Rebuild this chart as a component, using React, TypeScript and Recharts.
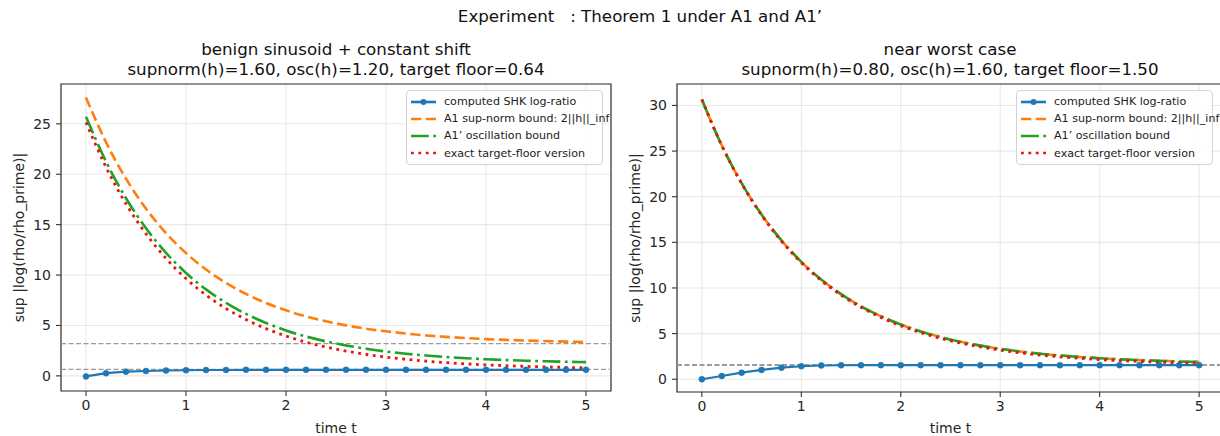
import React from 'react';
import { LineChart, Line, XAxis, YAxis, CartesianGrid, ReferenceLine, ReferenceArea, Legend } from 'recharts';

const FONT = '"DejaVu Sans", "Liberation Sans", sans-serif';

const TIMES = [0, 0.2, 0.4, 0.6, 0.8, 1, 1.2, 1.4, 1.6, 1.8, 2, 2.2, 2.4, 2.6, 2.8, 3, 3.2, 3.4, 3.6, 3.8, 4, 4.2, 4.4, 4.6, 4.8, 5];
const X_TICKS = [0, 1, 2, 3, 4, 5];
const LEFT_Y_TICKS = [0, 5, 10, 15, 20, 25];
const RIGHT_Y_TICKS = [0, 5, 10, 15, 20, 25, 30];

// benign sinusoid + constant shift
const LEFT_COMPUTED = [-0.05, 0.27, 0.42, 0.48, 0.53, 0.56, 0.58, 0.59, 0.6, 0.6, 0.6, 0.6, 0.6, 0.6, 0.6, 0.6, 0.6, 0.6, 0.6, 0.6, 0.6, 0.6, 0.6, 0.6, 0.6, 0.6];
const LEFT_SUPNORM = [27.6, 23.18, 19.56, 16.59, 14.16, 12.18, 10.55, 9.22, 8.13, 7.23, 6.5, 5.9, 5.41, 5.01, 4.68, 4.42, 4.2, 4.01, 3.87, 3.75, 3.65, 3.57, 3.5, 3.45, 3.4, 3.36];
const LEFT_OSC = [25.7, 21.26, 17.62, 14.65, 12.21, 10.21, 8.58, 7.24, 6.15, 5.25, 4.51, 3.91, 3.42, 3.02, 2.69, 2.42, 2.2, 2.02, 1.87, 1.75, 1.65, 1.57, 1.5, 1.45, 1.4, 1.36];
const LEFT_FLOOR = [25.14, 20.7, 17.06, 14.09, 11.65, 9.65, 8.02, 6.68, 5.59, 4.69, 3.95, 3.35, 2.86, 2.46, 2.13, 1.86, 1.64, 1.46, 1.31, 1.19, 1.09, 1.01, 0.94, 0.89, 0.84, 0.8];
const LEFT_REFS = [3.2, 0.64];

// near worst case
const RIGHT_COMPUTED = [0, 0.35, 0.72, 1.02, 1.27, 1.43, 1.51, 1.53, 1.54, 1.54, 1.54, 1.54, 1.54, 1.54, 1.54, 1.54, 1.54, 1.54, 1.54, 1.54, 1.54, 1.54, 1.54, 1.54, 1.54, 1.54];
const RIGHT_SUPNORM = [30.65, 25.63, 21.48, 18.05, 15.21, 12.86, 10.92, 9.32, 7.99, 6.9, 5.99, 5.24, 4.62, 4.1, 3.68, 3.33, 3.04, 2.8, 2.6, 2.44, 2.3, 2.19, 2.09, 2.02, 1.95, 1.9];
const RIGHT_OSC = [30.65, 25.63, 21.48, 18.05, 15.21, 12.86, 10.92, 9.32, 7.99, 6.9, 5.99, 5.24, 4.62, 4.1, 3.68, 3.33, 3.04, 2.8, 2.6, 2.44, 2.3, 2.19, 2.09, 2.02, 1.95, 1.9];
const RIGHT_FLOOR = [30.65, 25.61, 21.44, 17.98, 15.13, 12.77, 10.82, 9.21, 7.88, 6.77, 5.86, 5.11, 4.48, 3.97, 3.54, 3.18, 2.89, 2.65, 2.45, 2.29, 2.15, 2.04, 1.95, 1.87, 1.81, 1.75];
const RIGHT_REFS = [1.6, 1.5];

const BLUE = '#1f77b4';
const ORANGE = '#ff7f0e';
const GREEN = '#22a122';
const RED = '#ee1111';

const DASH_ORANGE = '10.3 4.5';
const DASH_GREEN = '17.8 4.5 2.8 4.5';
const DASH_RED = '2.8 4.6';

const LEGEND_ITEMS = [
  { label: 'computed SHK log-ratio', color: BLUE, dash: undefined, marker: true },
  { label: 'A1 sup-norm bound: 2||h||_inf', color: ORANGE, dash: DASH_ORANGE, marker: false },
  { label: 'A1\u2019 oscillation bound', color: GREEN, dash: DASH_GREEN, marker: false },
  { label: 'exact target-floor version', color: RED, dash: DASH_RED, marker: false },
];

const LegendBox = () => (
  <div
    style={{
      width: 197,
      boxSizing: 'border-box',
      border: '1px solid #d3d3d3',
      borderRadius: 4,
      background: 'rgba(255,255,255,0.85)',
      padding: '2px 0 2px 4px',
      fontFamily: FONT,
      fontSize: 11.1,
      color: '#222',
    }}
  >
    {LEGEND_ITEMS.map((item) => (
      <div key={item.label} style={{ display: 'flex', alignItems: 'center', height: 17.2 }}>
        <svg width={25} height={10} style={{ marginRight: 8, flex: 'none' }}>
          <line x1={0} y1={5} x2={25} y2={5} stroke={item.color} strokeWidth={2.6} strokeDasharray={item.dash} />
          {item.marker && <circle cx={12.5} cy={5} r={3} fill={item.color} />}
        </svg>
        <span style={{ whiteSpace: 'nowrap' }}>{item.label}</span>
      </div>
    ))}
  </div>
);

type PanelProps = {
  left: number;
  width: number;
  marginRight: number;
  axisHeight: number;
  yDomain: [number, number];
  yTicks: number[];
  computed: number[];
  supnorm: number[];
  osc: number[];
  floor: number[];
  refs: number[];
  legendLeft: number;
};

const Panel = (p: PanelProps) => {
  const data = TIMES.map((t, i) => ({
    t,
    computed: p.computed[i],
    supnorm: p.supnorm[i],
    osc: p.osc[i],
    floor: p.floor[i],
  }));
  const tickStyle = { fill: '#262626', fontSize: 14, fontFamily: FONT };
  return (
    <div style={{ position: 'absolute', left: p.left, top: 0 }}>
      <LineChart width={p.width} height={436} data={data} margin={{ top: 84, right: p.marginRight, bottom: 0, left: 0 }}>
        <CartesianGrid stroke="#e8e8e8" strokeWidth={1.1} />
        <XAxis
          dataKey="t"
          type="number"
          domain={[-0.25, 5.25]}
          ticks={X_TICKS}
          allowDataOverflow
          height={p.axisHeight}
          axisLine={false}
          tickLine={{ stroke: '#333', strokeWidth: 1.1 }}
          tickSize={5}
          tickMargin={4}
          tick={tickStyle}
          label={(props: any) => {
            const vb = props.viewBox || { x: 61, width: 550 };
            return (
              <text x={vb.x + vb.width / 2} y={433} textAnchor="middle" fontSize={14} fontFamily={FONT} fill="#262626">
                time t
              </text>
            );
          }}
        />
        <YAxis
          type="number"
          domain={p.yDomain}
          ticks={p.yTicks}
          allowDataOverflow
          width={61}
          axisLine={false}
          tickLine={{ stroke: '#333', strokeWidth: 1.1 }}
          tickSize={5}
          tickMargin={5}
          tick={tickStyle}
          label={(props: any) => {
            const vb = props.viewBox || { x: 0, y: 84, height: 307 };
            const cx = vb.x + 18.5;
            const cy = vb.y + vb.height / 2;
            return (
              <text
                x={cx}
                y={cy}
                transform={`rotate(-90 ${cx} ${cy})`}
                textAnchor="middle"
                dominantBaseline="central"
                fontSize={14}
                fontFamily={FONT}
                fill="#262626"
              >
                sup |log(rho/rho_prime)|
              </text>
            );
          }}
        />
        {p.refs.map((v) => (
          <ReferenceLine key={v} y={v} stroke="#9a9a9a" strokeWidth={1.1} strokeDasharray="5 2.5" />
        ))}
        <Line
          type="linear"
          dataKey="computed"
          stroke={BLUE}
          strokeWidth={2.1}
          dot={{ r: 3, fill: BLUE, stroke: BLUE, strokeWidth: 0.5 }}
          activeDot={false}
          isAnimationActive={false}
        />
        <Line type="monotone" dataKey="supnorm" stroke={ORANGE} strokeWidth={2.6} strokeDasharray={DASH_ORANGE} dot={false} activeDot={false} isAnimationActive={false} />
        <Line type="monotone" dataKey="osc" stroke={GREEN} strokeWidth={2.6} strokeDasharray={DASH_GREEN} dot={false} activeDot={false} isAnimationActive={false} />
        <Line type="monotone" dataKey="floor" stroke={RED} strokeWidth={2.8} strokeDasharray={DASH_RED} dot={false} activeDot={false} isAnimationActive={false} />
        <ReferenceArea
          x1={-0.25}
          x2={5.25}
          y1={p.yDomain[0]}
          y2={p.yDomain[1]}
          fill="none"
          fillOpacity={0}
          stroke="#333"
          strokeWidth={1.2}
          ifOverflow="visible"
        />
        <Legend
          layout="vertical"
          align="center"
          verticalAlign="middle"
          content={() => <LegendBox />}
          wrapperStyle={{ left: p.legendLeft, top: 90, width: 197, height: 'auto' }}
        />
      </LineChart>
    </div>
  );
};

const TitleBlock = ({ cx, lines }: { cx: number; lines: string[] }) => (
  <div
    style={{
      position: 'absolute',
      left: cx - 300,
      top: 40,
      width: 600,
      textAlign: 'center',
      fontFamily: FONT,
      fontSize: 16.7,
      lineHeight: '19.5px',
      color: '#111',
    }}
  >
    {lines.map((l) => (
      <div key={l}>{l}</div>
    ))}
  </div>
);

export default function App() {
  return (
    <div style={{ position: 'absolute', left: 0, top: 0, width: 1220, height: 436, overflow: 'hidden', background: '#fff' }}>
      <div
        style={{
          position: 'absolute',
          left: 340,
          top: 6,
          width: 600,
          textAlign: 'center',
          fontFamily: FONT,
          fontSize: 16.7,
          lineHeight: '20px',
          whiteSpace: 'pre',
          color: '#111',
        }}
      >
        {'Experiment   : Theorem 1 under A1 and A1\u2019'}
      </div>
      <TitleBlock cx={336} lines={['benign sinusoid + constant shift', 'supnorm(h)=1.60, osc(h)=1.20, target floor=0.64']} />
      <TitleBlock cx={950} lines={['near worst case', 'supnorm(h)=0.80, osc(h)=1.60, target floor=1.50']} />
      <Panel
        left={0}
        width={620}
        marginRight={9}
        axisHeight={45}
        yDomain={[-1.5, 28.95]}
        yTicks={LEFT_Y_TICKS}
        computed={LEFT_COMPUTED}
        supnorm={LEFT_SUPNORM}
        osc={LEFT_OSC}
        floor={LEFT_FLOOR}
        refs={LEFT_REFS}
        legendLeft={406}
      />
      <Panel
        left={616}
        width={618}
        marginRight={10}
        axisHeight={44}
        yDomain={[-1.4, 32.35]}
        yTicks={RIGHT_Y_TICKS}
        computed={RIGHT_COMPUTED}
        supnorm={RIGHT_SUPNORM}
        osc={RIGHT_OSC}
        floor={RIGHT_FLOOR}
        refs={RIGHT_REFS}
        legendLeft={400}
      />
    </div>
  );
}
